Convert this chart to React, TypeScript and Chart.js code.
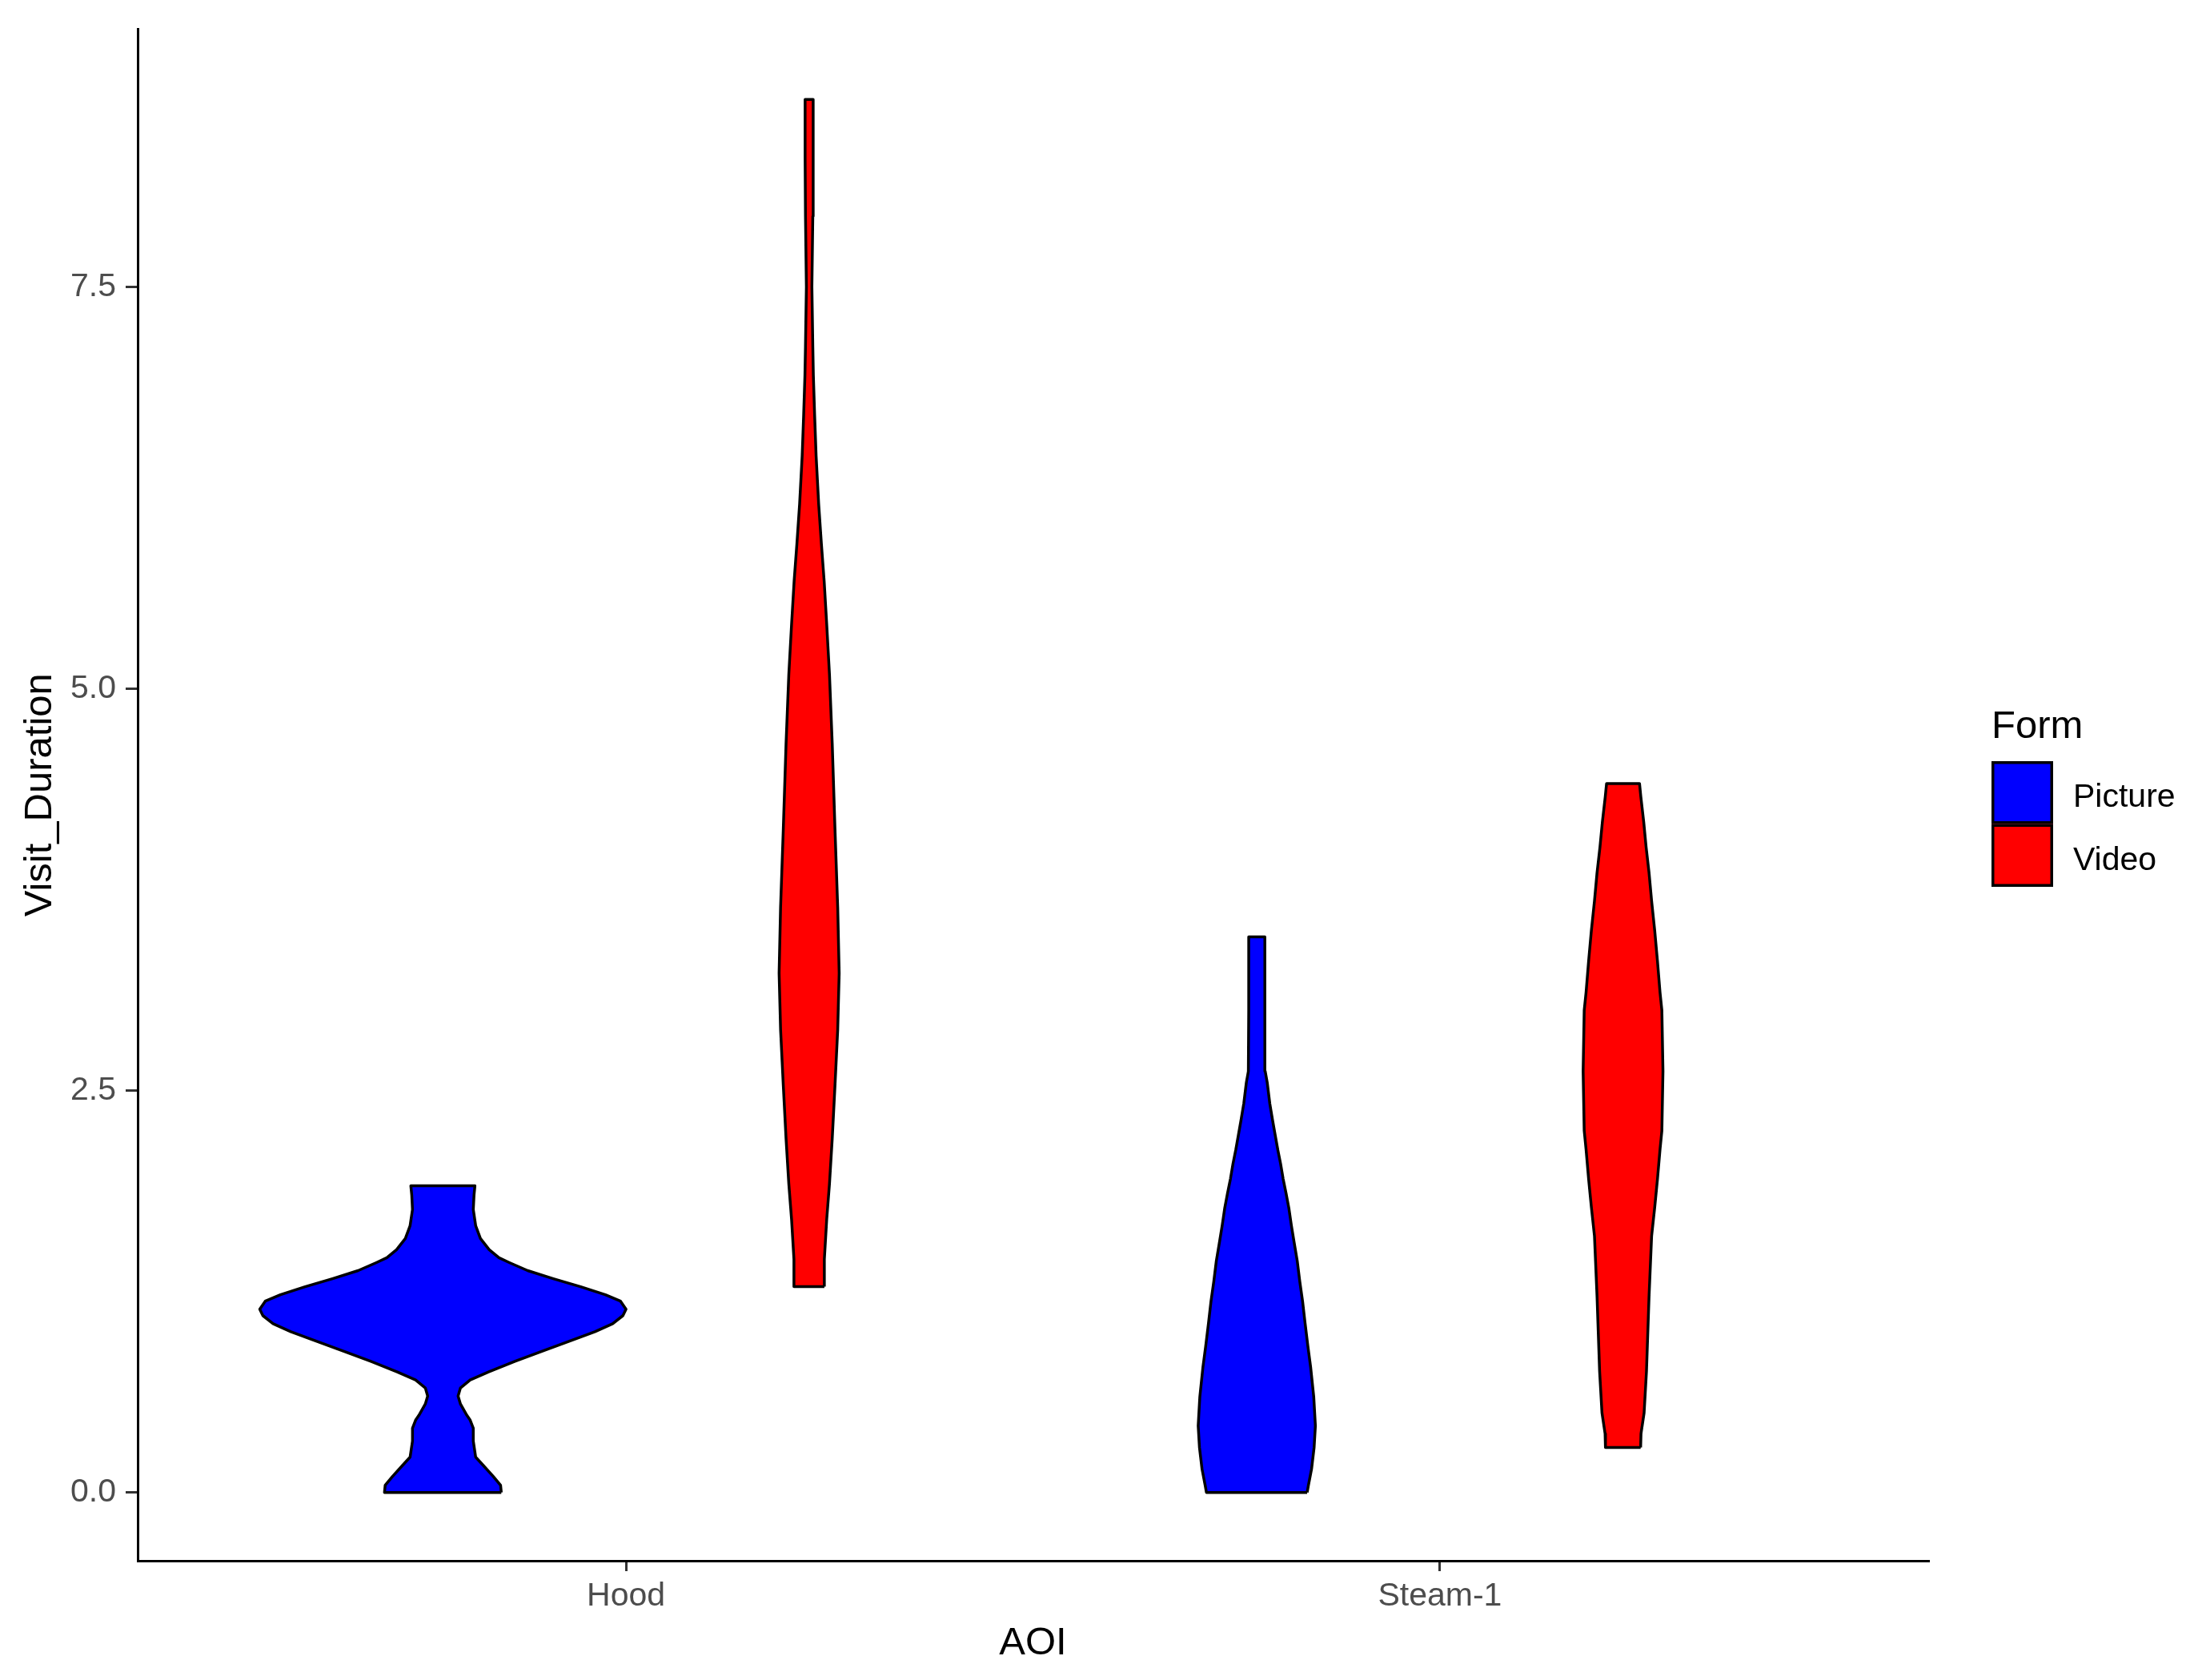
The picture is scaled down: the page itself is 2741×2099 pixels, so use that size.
import React, { useEffect, useRef } from "react";
import { Chart, registerables } from "chart.js";

Chart.register(...registerables);

const FONT = "'Liberation Sans', Arial, Helvetica, sans-serif";

const categories = ["Hood", "Steam-1"];
const forms = ["Picture", "Video"];
const formColors = ["#0000FF", "#FF0000"];
const yTickValues = [0, 2.5, 5, 7.5];
const xAxisTitle = "AOI";
const yAxisTitle = "Visit_Duration";
const legendTitle = "Form";

// Violin outlines: Visit_Duration levels and relative half-widths (1 = widest violin)
const hoodPictureY = [0, 0.045, 0.1, 0.17, 0.22, 0.32, 0.4, 0.45, 0.48, 0.55, 0.6, 0.65, 0.7, 0.75, 0.815, 0.88, 0.95, 1.0, 1.05, 1.1, 1.14, 1.19, 1.23, 1.28, 1.33, 1.38, 1.43, 1.46, 1.51, 1.58, 1.66, 1.76, 1.85, 1.908];
const hoodPictureW = [0.319, 0.315, 0.275, 0.219, 0.179, 0.166, 0.166, 0.149, 0.131, 0.096, 0.083, 0.096, 0.149, 0.249, 0.393, 0.546, 0.712, 0.83, 0.927, 0.983, 1.0, 0.97, 0.887, 0.752, 0.603, 0.463, 0.363, 0.306, 0.253, 0.205, 0.179, 0.166, 0.17, 0.175];

const hoodVideoY = [1.28, 1.45, 1.7, 1.92, 2.2, 2.53, 2.88, 3.23, 3.64, 4.13, 4.66, 5.09, 5.4, 5.67, 5.9, 6.15, 6.45, 6.7, 6.95, 7.13, 7.5, 7.94, 8.3, 8.667];
const hoodVideoW = [0.083, 0.083, 0.096, 0.111, 0.126, 0.141, 0.156, 0.164, 0.156, 0.141, 0.126, 0.111, 0.096, 0.082, 0.067, 0.052, 0.038, 0.03, 0.023, 0.02, 0.015, 0.02, 0.022, 0.022];

const steamPictureY = [0, 0.045, 0.145, 0.28, 0.415, 0.595, 0.78, 0.91, 1.05, 1.19, 1.31, 1.44, 1.555, 1.66, 1.77, 1.86, 1.95, 2.045, 2.13, 2.22, 2.317, 2.42, 2.55, 2.62, 3.0, 3.456];
const steamPictureW = [0.275, 0.282, 0.299, 0.313, 0.32, 0.311, 0.294, 0.279, 0.264, 0.25, 0.235, 0.221, 0.204, 0.189, 0.175, 0.16, 0.144, 0.13, 0.115, 0.101, 0.086, 0.071, 0.057, 0.046, 0.044, 0.044];

const steamVideoY = [0.28, 0.365, 0.495, 0.755, 1.22, 1.595, 1.775, 1.95, 2.135, 2.25, 2.62, 3.0, 3.11, 3.305, 3.495, 3.68, 3.855, 4.015, 4.17, 4.33, 4.41];
const steamVideoW = [0.096, 0.098, 0.115, 0.128, 0.142, 0.156, 0.173, 0.188, 0.202, 0.212, 0.218, 0.212, 0.202, 0.188, 0.173, 0.156, 0.142, 0.126, 0.113, 0.097, 0.09];

const violins = [
  { category: 0, form: 0, y: hoodPictureY, w: hoodPictureW },
  { category: 0, form: 1, y: hoodVideoY, w: hoodVideoW },
  { category: 1, form: 0, y: steamPictureY, w: steamPictureW },
  { category: 1, form: 1, y: steamVideoY, w: steamVideoW },
];

const DODGE_HALF = 0.225;

function outline(center: number, ys: number[], ws: number[]) {
  const pts: { x: number; y: number }[] = [];
  for (let i = 0; i < ys.length; i++) pts.push({ x: center + ws[i] * DODGE_HALF, y: ys[i] });
  for (let i = ys.length - 1; i >= 0; i--) pts.push({ x: center - ws[i] * DODGE_HALF, y: ys[i] });
  pts.push({ ...pts[0] });
  return pts;
}

const legendPlugin = {
  id: "ggLegend",
  afterDraw(chart: any) {
    const { ctx, chartArea } = chart;
    const left = chartArea.right + 79;
    ctx.save();
    ctx.textAlign = "left";
    ctx.textBaseline = "alphabetic";
    ctx.fillStyle = "#000000";
    ctx.font = `49px ${FONT}`;
    ctx.fillText(legendTitle, left, 922);
    const keyW = 77;
    const keyH = 78.5;
    const top = 951;
    forms.forEach((f, i) => {
      const y = top + i * keyH;
      ctx.fillStyle = formColors[i];
      ctx.fillRect(left, y, keyW, keyH);
      ctx.strokeStyle = "#000000";
      ctx.lineWidth = 3.5;
      ctx.strokeRect(left + 1.75, y + 1.75, keyW - 3.5, keyH - 3.5);
      ctx.fillStyle = "#000000";
      ctx.font = `41px ${FONT}`;
      ctx.fillText(f, left + 102, 1008 + i * 79);
    });
    ctx.restore();
  },
};

export default function App() {
  const canvasRef = useRef<HTMLCanvasElement | null>(null);

  useEffect(() => {
    document.body.style.margin = "0";
    document.body.style.overflow = "hidden";
    const canvas = canvasRef.current;
    if (!canvas) return;

    const datasets = violins.map((v) => {
      const center = v.category + 1 + (v.form === 0 ? -DODGE_HALF : DODGE_HALF);
      return {
        label: `${categories[v.category]} ${forms[v.form]}`,
        data: outline(center, v.y, v.w),
        showLine: true,
        fill: "shape",
        backgroundColor: formColors[v.form],
        borderColor: "#000000",
        borderWidth: 3.5,
        borderJoinStyle: "round",
        pointRadius: 0,
        pointHoverRadius: 0,
        tension: 0,
      };
    });

    const chart = new Chart(canvas, {
      type: "scatter",
      data: { datasets: datasets as any },
      options: {
        animation: false,
        responsive: false,
        devicePixelRatio: 1,
        events: [],
        layout: { padding: { top: 32, right: 332, bottom: 0, left: 0 } },
        plugins: {
          legend: { display: false },
          tooltip: { enabled: false },
        },
        scales: {
          x: {
            type: "linear",
            min: 0.4,
            max: 2.6,
            afterBuildTicks: (s: any) => {
              s.ticks = categories.map((_, i) => ({ value: i + 1 }));
            },
            afterFit: (s: any) => {
              s.height = 149;
            },
            ticks: {
              callback: (v: any) => categories[Math.round(Number(v)) - 1] ?? "",
              color: "#4D4D4D",
              font: { size: 41, family: FONT },
              padding: 7,
              autoSkip: false,
              maxRotation: 0,
            },
            grid: {
              drawOnChartArea: false,
              drawTicks: true,
              tickLength: 13,
              tickColor: "#333333",
              tickWidth: 3,
              color: "#333333",
              lineWidth: 3,
            },
            border: { display: true, color: "#000000", width: 3 },
            title: {
              display: true,
              text: xAxisTitle,
              color: "#000000",
              font: { size: 49, family: FONT },
              padding: { top: 0, bottom: 16 },
            },
          },
          y: {
            type: "linear",
            min: -0.425,
            max: 9.103,
            afterBuildTicks: (s: any) => {
              s.ticks = yTickValues.map((v) => ({ value: v }));
            },
            afterFit: (s: any) => {
              s.width = 172;
            },
            ticks: {
              callback: (v: any) => Number(v).toFixed(1),
              color: "#4D4D4D",
              font: { size: 41, family: FONT },
              padding: 12,
            },
            grid: {
              drawOnChartArea: false,
              drawTicks: true,
              tickLength: 15,
              tickColor: "#333333",
              tickWidth: 3,
              color: "#333333",
              lineWidth: 3,
            },
            border: { display: true, color: "#000000", width: 3 },
            title: {
              display: true,
              text: yAxisTitle,
              color: "#000000",
              font: { size: 49, family: FONT },
              padding: { top: 21, bottom: 0 },
            },
          },
        },
      } as any,
      plugins: [legendPlugin],
    });

    return () => {
      chart.destroy();
    };
  }, []);

  return (
    <div style={{ position: "absolute", left: 0, top: 0, width: 2741, height: 2099, background: "#ffffff" }}>
      <canvas ref={canvasRef} width={2741} height={2099} style={{ display: "block", width: 2741, height: 2099 }} />
    </div>
  );
}
